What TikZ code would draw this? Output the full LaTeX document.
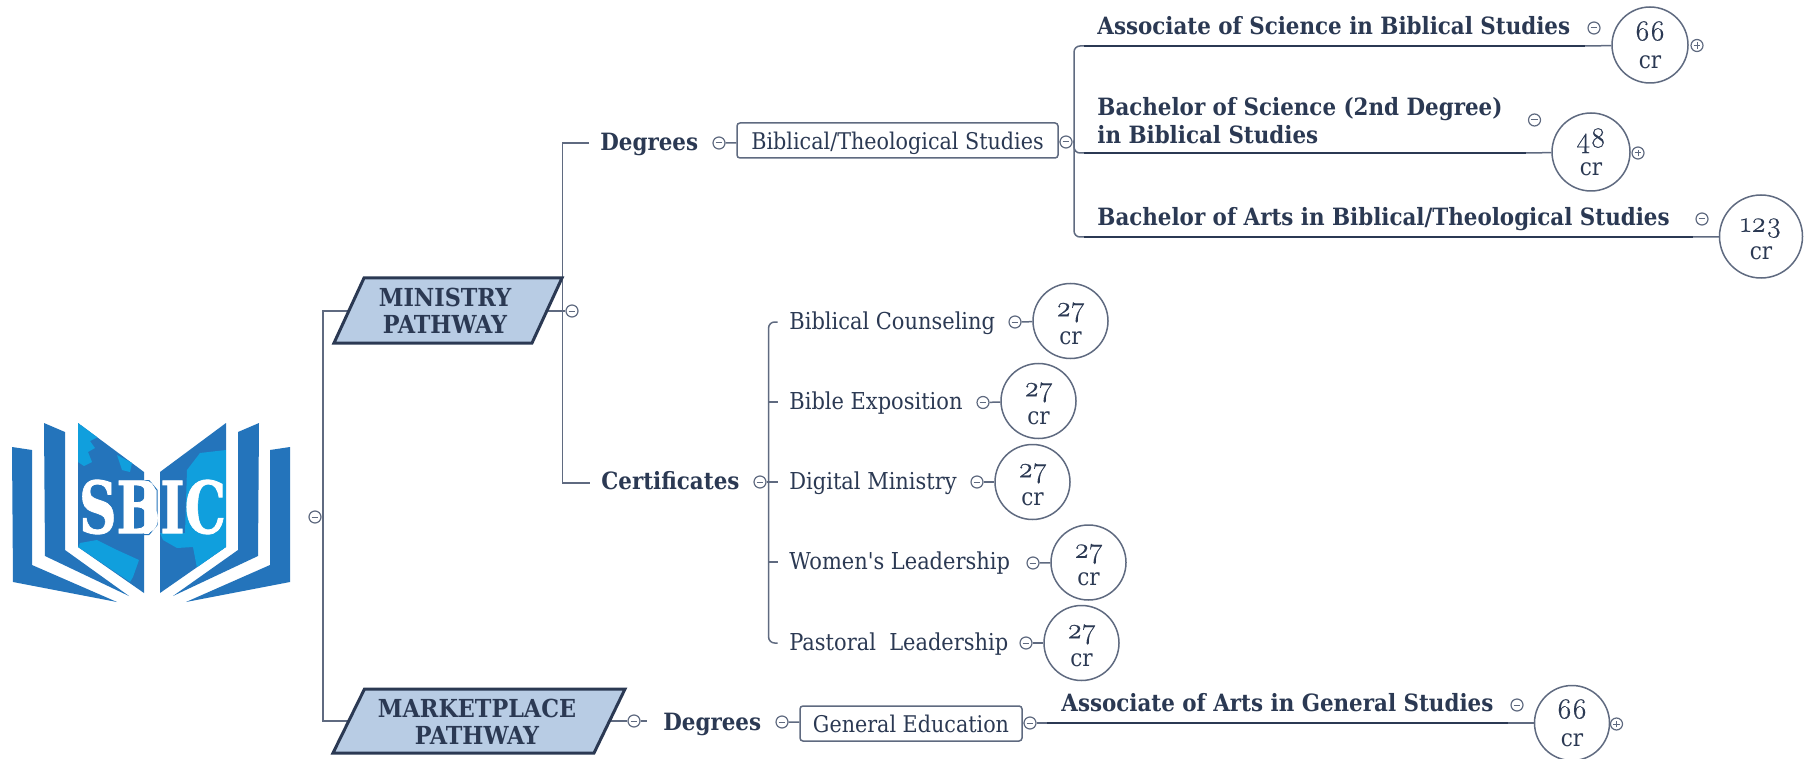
\documentclass[tikz,border=0pt]{standalone}
\usepackage{fontspec}
\setmainfont{DejaVu Serif Condensed}
\newfontfamily\onumfont[Numbers=OldStyle,FakeBold=0.4]{Latin Modern Roman}
\newfontfamily\logofont[FakeBold=1.2]{DejaVu Serif}
\usetikzlibrary{calc}
\definecolor{ink}{HTML}{2B3953}
\definecolor{wire}{HTML}{5F6A80}
\definecolor{pfill}{HTML}{B8CCE4}
\definecolor{bookblue}{HTML}{2474BB}
\definecolor{maplight}{HTML}{109FDD}
\newcommand{\osn}[1]{{\onumfont\fontsize{14.5}{14}\selectfont\rule{0pt}{9.5pt}#1}}
\tikzset{
  x=0.5pt,y=-0.5pt,
  conn/.style={draw=wire,line width=0.75pt},
  thickline/.style={draw=ink,line width=1.25pt},
  label/.style={text=ink,font=\fontsize{11.65}{13}\selectfont,inner sep=0pt,anchor=mid west,yshift=-1.1pt},
  blabel/.style={text=ink,font=\fontsize{11.9}{13.8}\selectfont\bfseries,inner sep=0pt,anchor=mid west,align=left,yshift=-1.1pt},
  ptext/.style={text=ink,font=\fontsize{12.4}{13.5}\selectfont\bfseries,inner sep=0pt,align=center},
  boxed/.style={draw=wire,line width=0.75pt,rounded corners=1.5pt,fill=white,text=ink,font=\fontsize{11.5}{13}\selectfont,inner sep=0pt,minimum height=17.5pt,text height=10pt,text depth=1pt},
  credit/.style={circle,draw=wire,line width=0.75pt,fill=white,text=ink,inner sep=0pt,minimum size=#1,align=center,font=\fontsize{12}{14}\selectfont},
  credit/.default=37.5pt,
  para/.style={draw=ink,fill=pfill,line width=1.5pt,line join=miter},
  toggle/.style={circle,draw=wire,line width=0.6pt,fill=white,inner sep=0pt,minimum size=6pt},
  minus/.style={toggle,path picture={\draw[wire,line width=0.5pt] ([xshift=-1.7pt]path picture bounding box.center)--([xshift=1.7pt]path picture bounding box.center);}},
  plus/.style={toggle,path picture={\draw[wire,line width=0.5pt] ([xshift=-1.7pt]path picture bounding box.center)--([xshift=1.7pt]path picture bounding box.center) ([yshift=-1.7pt]path picture bounding box.center)--([yshift=1.7pt]path picture bounding box.center);}},
}
\begin{document}
\begin{tikzpicture}
\useasboundingbox (0,0) rectangle (1804,759);
\fill[white] (0,0) rectangle (1804,759);
% ---------- logo
\fill[bookblue] (12,447)--(32,450)--(32,565)--(117,602)--(13,582)--cycle;
\fill[bookblue] (44,423)--(65,432)--(65,550)--(129,596)--(45,556)--cycle;
\fill[bookblue] (290,447)--(270,450)--(270,565)--(186,602)--(290,582)--cycle;
\fill[bookblue] (259,423)--(238,432)--(238,550)--(173,596)--(258,556)--cycle;
\fill[bookblue] (78,423)--(144,472)--(144,593)--(78,547)--cycle;
\fill[bookblue] (226,423)--(160,472)--(160,593)--(226,547)--cycle;
\begin{scope}
\clip (78,423)--(144,472)--(144,593)--(78,547)--cycle;
\fill[maplight] (78,423)--(98,437)--(90,441)--(95,448)--(88,452)--(92,462)--(84,466)--(78,462)--cycle;
\fill[maplight] (117,455)--(132,463)--(130,472)--(122,470)--cycle;
\fill[maplight] (80,543)--(97,540)--(117,550)--(139,560)--(133,577)--(130,582)--(78,547)--cycle;
\end{scope}
\begin{scope}
\clip (226,423)--(160,472)--(160,593)--(226,547)--cycle;
\fill[maplight] (187,470)--(200,453)--(226,450)--(226,547)--(197,568)--(193,547)--(177,548)--(163,540)--(160,533)--(185,533)--cycle;
\end{scope}
\draw[bookblue,line width=0.5pt] (144,480.5)--(149,480.5)--(157,490)--(157,525)--(149,534.5)--(144,534.5);
\node[font=\fontsize{36}{38}\logofont\bfseries,text=white,inner sep=0pt] (logo) at (152.5,507) {\scalebox{0.72}[1]{SBIC}};
% ---------- coordinates for free ends
\coordinate (trunkTop) at (323,311);
\coordinate (trunkBot) at (323,721);
\coordinate (minL) at (349,311);
\coordinate (minR) at (548,311);
\coordinate (mktL) at (348,721);
\coordinate (mktR) at (611,721);
\coordinate (degHook) at (589,143);
\coordinate (certHook) at (590,483);
\coordinate (spine) at (562.5,311);
\coordinate (cA) at (777.5,322);
\coordinate (cB) at (777.5,402);
\coordinate (cC) at (777.5,482);
\coordinate (cD) at (777.5,562);
\coordinate (cE) at (777.5,643);
\coordinate (dA) at (1084,46);
\coordinate (dB) at (1084,153);
\coordinate (dC) at (1084,237);
\coordinate (dAe) at (1585,46);
\coordinate (dBe) at (1526,153);
\coordinate (dCe) at (1693,237);
\coordinate (gS) at (1047,723);
\coordinate (gE) at (1507.5,723);
\coordinate (mDegEnd) at (647,721);
% ---------- toggles
\node[minus] (tRoot) at (315,517) {};
\node[minus] (tMin) at (572,311) {};
\node[minus] (tDeg) at (719,143) {};
\node[minus] (tBib) at (1066,142) {};
\node[minus] (tCert) at (760,482) {};
\node[minus] (t1) at (1015,322) {};
\node[minus] (t2) at (983,402.5) {};
\node[minus] (t3) at (977,482) {};
\node[minus] (t4) at (1033,563) {};
\node[minus] (t5) at (1026,643) {};
\node[minus] (tAS) at (1594,28) {};
\node[minus] (tBS) at (1534.5,120) {};
\node[minus] (tBA) at (1702,219) {};
\node[minus] (tMkt) at (634,721) {};
\node[minus] (tMDeg) at (782,722) {};
\node[minus] (tGen) at (1030,723) {};
\node[minus] (tAA) at (1517,705) {};
\node[plus] (pAS) at (1697,45.5) {};
\node[plus] (pBS) at (1638,153) {};
\node[plus] (pAA) at (1616.5,724) {};
% ---------- credit circles
\node[credit] (c1) at (1070.5,321) {\osn{27}\\cr};
\node[credit] (c2) at (1038.5,401) {\osn{27}\\cr};
\node[credit] (c3) at (1032.5,482) {\osn{27}\\cr};
\node[credit] (c4) at (1088.5,562.5) {\osn{27}\\cr};
\node[credit] (c5) at (1081.5,643) {\osn{27}\\cr};
\node[credit=38pt] (cAS) at (1650,45) {\osn{66}\\cr};
\node[credit=39pt] (cBS) at (1591,152) {\osn{48}\\cr};
\node[credit=41.5pt] (cBA) at (1761,236.5) {\osn{123}\\cr};
\node[credit=37.5pt] (cAA) at (1572,723) {\osn{66}\\cr};
% ---------- boxes
\node[boxed,minimum width=160.5pt] (bib) at (897.5,140.5) {Biblical/Theological Studies};
\node[boxed,minimum width=111pt] (gen) at (911,723.5) {General Education};
% ---------- connectors
\draw[conn] (tRoot) -- (tRoot -| trunkTop);
\draw[conn] (minL) -- (trunkTop) -- (trunkBot) -- (mktL);
\draw[conn] (degHook) -- (degHook -| spine) -- (certHook -| spine) -- (certHook);
\draw[conn] (minR) -- (tMin);
\draw[conn] (mktR) -- (tMkt);
\draw[conn] (tMkt) -- (mDegEnd);
\draw[conn] (tDeg) -- (bib);
\draw[conn] (bib) -- (tBib);
\draw[conn] (tMDeg) -- (gen);
\draw[conn] (gen) -- (tGen);
\draw[conn] (tGen) -- (gS);
\draw[conn] (tCert) -- (cC);
\draw[conn,rounded corners=3pt] (cA) -- (768.6,322) -- (768.6,643) -- (cE);
\draw[conn] (768.6,402) -- (cB);
\draw[conn] (768.6,562) -- (cD);
\draw[conn,rounded corners=3pt] (dA) -- (1074,46) -- (1074,237) -- (dC);
\draw[conn] (tBib) -- (1074,142);
\draw[conn,rounded corners=3pt] (1074,140) -- (1074,153) -- (dB);
\draw[conn] (t1) -- (c1);
\draw[conn] (t2) -- (c2);
\draw[conn] (t3) -- (c3);
\draw[conn] (t4) -- (c4);
\draw[conn] (t5) -- (c5);
\draw[conn] (dAe) -- (cAS);
\draw[conn] (dBe) -- (cBS);
\draw[conn] (dCe) -- (cBA);
\draw[conn] (gE) -- (cAA);
\draw[thickline] (dA) -- (dAe);
\draw[thickline] (dB) -- (dBe);
\draw[thickline] (dC) -- (dCe);
\draw[thickline] (gS) -- (gE);
% ---------- parallelograms
\draw[para] (334,343)--(364,278)--(562,278)--(532,343)--cycle;
\draw[para] (333,753)--(364.5,689)--(625,689)--(594,753)--cycle;
\node[ptext] (min) at (445,311) {MINISTRY\\PATHWAY};
\node[ptext] (mkt) at (477,722) {MARKETPLACE\\PATHWAY};
% ---------- labels
\node[blabel] (lDeg) at (600,143) {Degrees};
\node[blabel] (lCert) at (601,482) {Certificates};
\node[blabel] (lDeg2) at (663,723) {Degrees};
\node[label] (l1) at (789,322) {Biblical Counseling};
\node[label] (l2) at (789,402) {Bible Exposition};
\node[label] (l3) at (789,482) {Digital Ministry};
\node[label] (l4) at (789,562) {Women\textquotesingle s Leadership};
\node[label] (l5) at (789,643) {Pastoral\ \ Leadership};
\node[blabel] (lAS) at (1097,27) {Associate of Science in Biblical Studies};
\node[blabel,anchor=west,yshift=1.1pt] (lBS) at (1097,120.5) {Bachelor of Science (2nd Degree)\\in Biblical Studies};
\node[blabel] (lBA) at (1097,218) {Bachelor of Arts in Biblical/Theological Studies};
\node[blabel] (lAA) at (1061,704) {Associate of Arts in General Studies};
\end{tikzpicture}
\end{document}
